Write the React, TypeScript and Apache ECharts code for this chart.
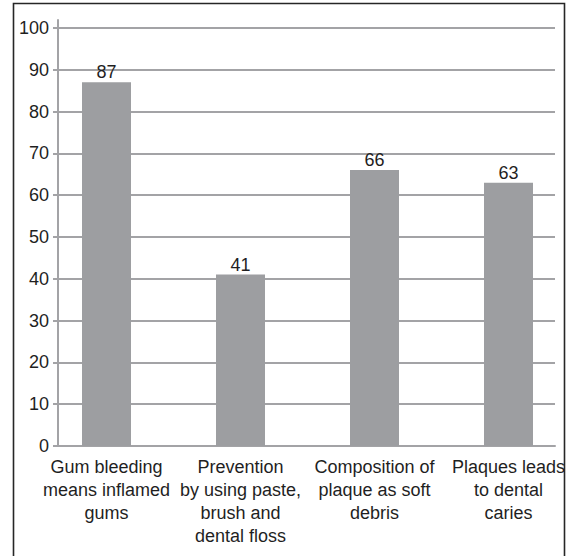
import React, { useEffect, useRef } from "react";
import * as echarts from "echarts";

const categories = [
  "Gum bleeding\nmeans inflamed\ngums",
  "Prevention\nby using paste,\nbrush and\ndental floss",
  "Composition of\nplaque as soft\ndebris",
  "Plaques leads\nto dental\ncaries",
];
const values = [87, 41, 66, 63];
const yTicks = [0, 10, 20, 30, 40, 50, 60, 70, 80, 90, 100];

const FONT = "'Liberation Sans', Arial, sans-serif";
const GRAY = "#a3a3a6";

export default function App() {
  const ref = useRef<HTMLDivElement>(null);
  useEffect(() => {
    if (!ref.current) return;
    const chart = echarts.init(ref.current, undefined, { renderer: "svg" });
    chart.setOption({
      animation: false,
      backgroundColor: "#fff",
      textStyle: { fontFamily: FONT },
      grid: [
        { left: 58, top: 28, width: 497, height: 418 },
        { left: 39.5, top: 28, width: 536, height: 418 },
        { left: 58, top: 20, width: 1, height: 426 },
      ],
      xAxis: [
        {
          type: "category",
          gridIndex: 0,
          data: categories,
          axisLine: { show: true, lineStyle: { color: GRAY, width: 2 } },
          axisTick: { show: false },
          axisLabel: { show: false },
        },
        {
          type: "category",
          gridIndex: 1,
          data: categories,
          axisLine: { show: false },
          axisTick: { show: false },
          axisLabel: {
            show: true,
            interval: 0,
            margin: 9,
            fontSize: 18,
            lineHeight: 23,
            color: "#1f1f1f",
            fontFamily: FONT,
          },
        },
        {
          type: "value",
          gridIndex: 2,
          show: false,
        },
      ],
      yAxis: [
        {
          type: "value",
          gridIndex: 0,
          min: yTicks[0],
          max: yTicks[yTicks.length - 1],
          interval: 10,
          axisLine: { show: false },
          axisTick: { show: true, length: 5, lineStyle: { color: GRAY, width: 2 } },
          splitLine: { show: true, lineStyle: { color: GRAY, width: 2 } },
          axisLabel: { margin: 9, fontSize: 18, color: "#1f1f1f", fontFamily: FONT },
        },
        {
          type: "value",
          gridIndex: 1,
          min: 0,
          max: 100,
          show: false,
        },
        {
          type: "value",
          gridIndex: 2,
          min: 0,
          max: 1,
          axisLine: { show: true, lineStyle: { color: GRAY, width: 2 } },
          axisTick: { show: false },
          axisLabel: { show: false },
          splitLine: { show: false },
        },
      ],
      series: [
        {
          type: "bar",
          xAxisIndex: 1,
          yAxisIndex: 1,
          data: values,
          barWidth: 49,
          itemStyle: { color: "#9d9ea1" },
          label: {
            show: true,
            position: "top",
            distance: 1,
            fontSize: 18,
            color: "#1f1f1f",
            fontFamily: FONT,
          },
        },
      ],
      graphic: [
        {
          type: "rect",
          shape: { x: 13.5, y: 3.5, width: 551, height: 560 },
          style: { fill: "none", stroke: "#262626", lineWidth: 1.6 },
          silent: true,
        },
      ],
    });
    return () => chart.dispose();
  }, []);
  return (
    <div
      ref={ref}
      style={{ position: "fixed", left: 0, top: 0, width: 600, height: 556 }}
    />
  );
}
